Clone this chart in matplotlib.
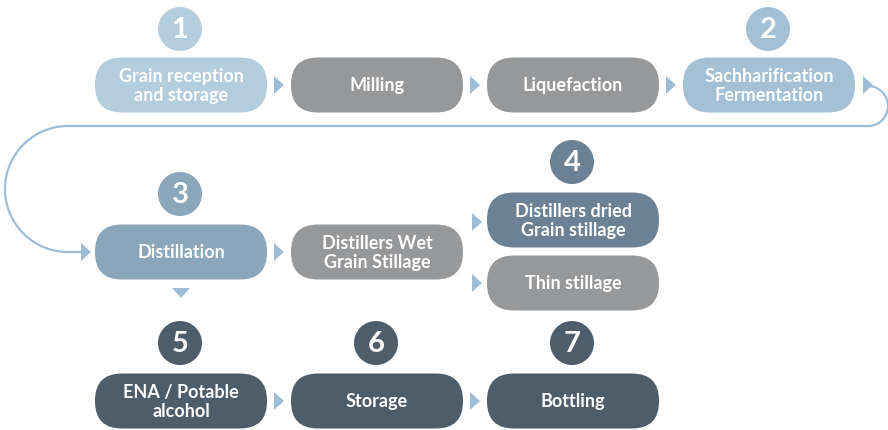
import numpy as np
import matplotlib.pyplot as plt
from matplotlib.patches import FancyBboxPatch, Circle, Polygon

plt.rcParams['font.family'] = ['Lato', 'DejaVu Sans']

# process steps
labels = ['Grain reception\nand storage', 'Milling', 'Liquefaction',
          'Sachharification\nFermentation',
          'Distillation', 'Distillers Wet\nGrain Stillage',
          'Distillers dried\nGrain stillage', 'Thin stillage',
          'ENA / Potable\nalcohol', 'Storage', 'Bottling']
step_no = ['1', '', '', '2', '3', '', '4', '', '5', '6', '7']

# layout (pixel coords, y down)
box_x = [95, 291, 487, 683, 95, 291, 487, 487, 95, 291, 487]
box_y = [85, 85, 85, 85, 252, 252, 220, 283, 401, 401, 401]
colors = ['#b4cddd', '#97989a', '#97989a', '#a4c0d5',
          '#89a6bb', '#97989a', '#6c8193', '#97989a',
          '#4f5d6a', '#4f5d6a', '#4f5d6a']
circle_y = [29, None, None, 29, 194, None, 162, None, 343, 343, 343]

BW, BH = 172, 55
ARROW = '#9dbdd6'

fig = plt.figure(figsize=(8.88, 4.30), dpi=100)
ax = fig.add_axes([0, 0, 1, 1])
ax.set_xlim(0, 888)
ax.set_ylim(430, 0)
ax.axis('off')

for lab, n, x, y, c, cy in zip(labels, step_no, box_x, box_y, colors, circle_y):
    ax.add_patch(FancyBboxPatch((x, y - BH / 2), BW, BH,
                                boxstyle='round,pad=0,rounding_size=27',
                                fc=c, ec='none'))
    ax.text(x + BW / 2, y + 1, lab, color='white', fontsize=13,
            fontweight='bold', ha='center', va='center', linespacing=1.15)
    if n:
        ax.add_patch(Circle((x + BW / 2 - 1, cy), 22, fc=c, ec='none'))
        ax.text(x + BW / 2 - 1, cy + 1, n, color='white', fontsize=21,
                fontweight='bold', ha='center', va='center')


def tri_right(x, y):
    ax.add_patch(Polygon([(x, y - 9), (x, y + 9), (x + 10, y)],
                         closed=True, fc=ARROW, ec='none'))


for x, y in [(274, 85), (470, 85), (666, 85), (863, 85),
             (81, 252), (274, 252), (472, 222), (472, 283),
             (274, 401), (470, 401)]:
    tri_right(x, y)

# down arrow under Distillation
ax.add_patch(Polygon([(172, 288), (190, 288), (181, 298)],
                     closed=True, fc=ARROW, ec='none'))

# connector from row 1 to row 2
t1 = np.linspace(-np.pi / 2, np.pi / 2, 40)
rx = 868 + 20 * np.cos(t1)
ry = 106 + 20 * np.sin(t1)
t2 = np.linspace(np.pi / 2, 3 * np.pi / 2, 60)
lx = 68 + 63 * np.cos(t2)
ly = 189 - 63 * np.sin(t2)
px = np.concatenate([[873], rx, lx, [81]])
py = np.concatenate([[86], ry, ly, [252]])
ax.plot(px, py, color=ARROW, lw=1.6, solid_capstyle='butt')

fig.savefig('out.png', dpi=100)
